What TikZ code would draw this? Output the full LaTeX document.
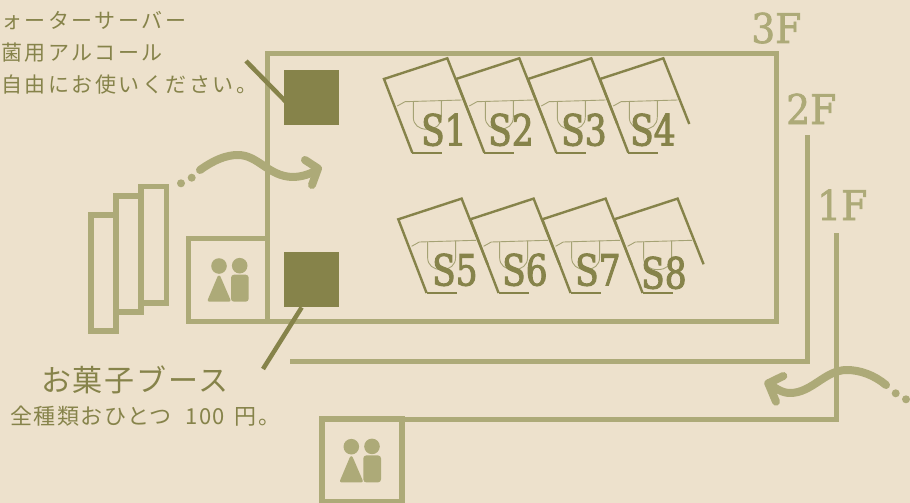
\documentclass[tikz,border=0pt]{standalone}
\usepackage{fontspec}
\setmainfont{Noto Sans CJK JP}
\newfontfamily\jpa[LetterSpace=12]{Noto Sans CJK JP}
\newfontfamily\jpb[LetterSpace=6]{Noto Sans CJK JP}
\newfontfamily\jpc[LetterSpace=7]{Noto Sans CJK JP}
\newfontfamily\slab[FakeStretch=0.8,FakeBold=2.2]{DejaVu Serif}
\newfontfamily\slabf[FakeStretch=0.92,FakeBold=1.6]{DejaVu Serif}
\definecolor{paper}{HTML}{EDE1CC}
\definecolor{wall}{HTML}{ADAA78}
\definecolor{ink}{HTML}{86834A}
\definecolor{thinl}{HTML}{A5A274}
\tikzset{
  wallline/.style={draw=wall,line width=5pt,line join=miter},
  flight/.style={draw=wall,line width=5.5pt},
  leader/.style={draw=ink,line width=4.5pt},
  booth/.style={draw=ink,line width=2.4pt},
  boothin/.style={draw=thinl,line width=0.9pt},
  walker/.style={draw=wall,line width=8pt,line cap=round,line join=round},
  stall/.style={fill=ink,draw=none,minimum size=55pt,inner sep=0pt,anchor=north west},
  caption/.style={text=ink,inner sep=0pt,anchor=base west},
  seat/.style={text=ink,inner sep=0pt,anchor=base west,font=\slab\fontsize{43}{43}\selectfont},
  floor/.style={text=wall,inner sep=0pt,anchor=base west,font=\slabf\fontsize{41}{41}\selectfont},
  figure/.style={fill=wall,draw=none},
  dotmark/.style={fill=wall,draw=none}
}
\newcommand{\boothshape}[2]{%
  \begin{scope}[shift={(#1,#2)}]
    \draw[booth] (28.3,73.7) -- (58.3,73.7);
    \draw[booth] (28.3,73.7) -- (0,0) -- (63.3,-20.7) -- (89.3,45);
    \draw[boothin] (13.3,27) -- (21,22.7) -- (77.7,21);
    \draw[boothin] (29.3,22.5) -- (29.3,38) .. controls (29.3,46) and (35,50.3) .. (43.3,50.3)
      .. controls (51.6,50.3) and (57.3,46) .. (57.3,38) -- (57.3,21.5);
  \end{scope}}
\newcommand{\peopleicon}[2]{%
  \begin{scope}[shift={(#1,#2)}]
    \fill[figure] (219,266) circle (7.8);
    \fill[figure] (239.7,265.7) circle (7.8);
    \filldraw[figure,draw=wall,line width=3pt,line join=round] (219,277) -- (209.2,300.2) -- (229,300.2) -- cycle;
    \fill[figure,rounded corners=3pt] (231,274.7) rectangle (248.7,301.7);
  \end{scope}}
\begin{document}
\begin{tikzpicture}[x=1pt,y=-1pt]
\useasboundingbox (0,0) rectangle (910,503);
\fill[paper] (0,0) rectangle (910,503);

% floor plan walls
\draw[wallline] (267.7,53.5) rectangle (776,321);
\draw[wallline] (188.5,238.7) rectangle (267.7,321);
\draw[wallline] (807.3,135) -- (807.3,361.3) -- (290,361.3);
\draw[wallline] (836.3,233) -- (836.3,419.2) -- (401.5,419.2);
\draw[wallline,line width=6pt] (321.5,419.2) rectangle (401.5,501.5);

% stairs
\draw[flight] (91,215) rectangle (116,331);
\draw[flight] (116,196) rectangle (141,312);
\draw[flight] (141,186.5) rectangle (166.6,303);

% rest rooms
\peopleicon{0}{0}
\peopleicon{132.3}{180.7}

% booths
\boothshape{384}{79}
\boothshape{456}{79}
\boothshape{528}{79}
\boothshape{600}{79}
\boothshape{398.3}{219.3}
\boothshape{470.3}{219.3}
\boothshape{542.3}{219.3}
\boothshape{614.3}{219.3}

\node[seat] (s1) at (421,145.5) {S1};
\node[seat] (s2) at (488,145.5) {S2};
\node[seat] (s3) at (561,145.5) {S3};
\node[seat] (s4) at (630,145.5) {S4};
\node[seat] (s5) at (432,285.5) {S5};
\node[seat] (s6) at (502,285.5) {S6};
\node[seat] (s7) at (575,285.5) {S7};
\node[seat] (s8) at (641,288.5) {S8};

\node[floor] (f3) at (751,43) {3F};
\node[floor] (f2) at (786,124) {2F};
\node[floor] (f1) at (817,220) {1F};

% stalls and leaders
\coordinate (waterend) at (246,61);
\coordinate (sweetend) at (263,369);
\node[stall] (water) at (284,70) {};
\node[stall] (sweet) at (284,252) {};
\draw[leader] (waterend) -- ([xshift=-20pt,yshift=-10pt]water.center);
\draw[leader] (sweetend) -- ([xshift=-10pt]sweet.south);

% texts
\node[caption,font=\jpa\fontsize{21}{21}\selectfont] (t1) at (1,28.5) {ォーターサーバー};
\node[caption,font=\jpa\fontsize{21}{21}\selectfont] (t2) at (1,60.5) {菌用アルコール};
\node[caption,font=\jpa\fontsize{21}{21}\selectfont] (t3) at (1,92.5) {自由にお使いください。};
\node[caption,font=\jpb\fontsize{30}{30}\selectfont] (t4) at (41,391) {お菓子ブース};
\node[caption,font=\jpc\fontsize{22}{22}\selectfont] (t5) at (10,424) {全種類おひとつ\hspace{7pt} 100 \hspace{3pt}円。};

% walking arrows
\draw[walker] (200,170) .. controls (214,160) and (226,155) .. (238,155)
  .. controls (258,155) and (268,176) .. (292,177)
  .. controls (302,177) and (310,174) .. (317,170);
\draw[walker] (305,160) -- (318,168.5) -- (312,185);
\fill[dotmark] (191.7,177.7) circle (4);
\fill[dotmark] (181,183.3) circle (4);

\draw[walker] (886,385) .. controls (874,375) and (860,370) .. (846.7,370)
  .. controls (825,370) and (812,393) .. (790,393)
  .. controls (782,393) and (775,388) .. (768.3,383.3);
\draw[walker] (783.3,376) -- (768.3,383.3) -- (776,401.7);
\fill[dotmark] (895.7,393.3) circle (4);
\fill[dotmark] (906,399.3) circle (4);
\end{tikzpicture}
\end{document}
